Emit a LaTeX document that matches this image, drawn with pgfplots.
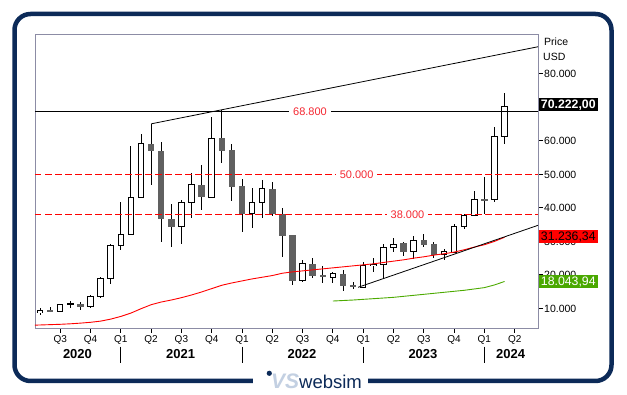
\documentclass[border=0pt]{standalone}
\usepackage{fontspec}
\setmainfont{Liberation Sans}
\usepackage{pgfplots}
\usepackage{pgfplotstable}
\pgfplotsset{compat=1.18}
\definecolor{navy}{RGB}{12,42,88}
\definecolor{framecol}{RGB}{140,140,165}
\definecolor{bodygray}{RGB}{96,96,96}
\definecolor{labred}{RGB}{245,40,50}
\definecolor{lvlred}{RGB}{255,0,0}
\definecolor{magreen}{RGB}{76,170,0}
\definecolor{boxgreen}{RGB}{74,168,0}
\definecolor{logolight}{RGB}{195,208,226}

% month index i: 0 = May 2020 ... 46 = Mar 2024 ; values in thousand USD
\pgfplotstableread{
i o h l c
0 8.65 10.0 8.1 9.35
2 9.1 11.4 8.9 11.1
3 11.1 12.1 10.1 11.4
5 10.5 14.1 10.1 13.6
6 13.6 19.5 13.0 19.0
7 19.0 29.2 17.4 28.9
8 28.9 41.9 27.3 32.2
9 32.2 58.6 32.0 43.1
10 43.1 62.0 43.0 59.1
14 34.3 42.5 29.1 41.6
15 41.6 50.5 37.0 46.9
17 43.2 67.2 43.0 60.8
21 38.2 45.8 34.0 41.6
22 41.6 48.2 37.0 45.7
26 18.3 24.4 18.0 23.4
29 19.35 20.9 17.7 20.3
32 16.3 23.7 16.2 22.8
33 22.9 24.9 21.0 23.25
34 23.0 29.2 19.0 28.2
35 28.2 31.1 26.7 29.2
37 26.9 31.6 24.6 30.3
40 26.1 27.6 24.4 27.0
41 26.8 35.2 26.5 34.5
42 34.5 38.3 33.8 37.8
43 37.8 45.0 37.5 42.4
45 42.5 64.2 41.7 61.4
46 61.4 74.3 59.2 70.222
}\up

\pgfplotstableread{
i o h l c
1 9.35 10.3 8.9 9.1
4 11.4 12.0 9.6 10.5
11 59.1 65.0 46.7 56.9
12 57.1 59.7 29.9 36.6
13 36.6 41.3 28.4 34.3
16 46.9 52.8 39.5 43.2
18 60.8 69.1 53.3 57.1
19 57.4 59.2 42.0 46.2
20 46.6 48.7 32.8 38.2
23 45.7 47.6 37.5 38.2
24 38.3 40.1 25.2 31.7
25 31.8 32.0 17.1 18.3
27 23.4 25.0 19.2 19.8
28 20.0 22.7 17.7 19.3
30 20.3 21.5 15.1 16.8
31 17.0 17.8 15.9 16.3
36 29.6 29.9 25.5 26.9
38 30.3 32.1 28.4 28.9
39 29.2 29.9 25.1 25.9
44 42.65 49.2 38.1 42.35
}\down

\pgfplotstableread{
i v
-0.5 5.0
0 5.05
1 5.15
2 5.25
3 5.4
4 5.6
5 5.85
6 6.2
7 6.8
8 7.6
9 8.6
10 9.9
11 11.1
12 11.9
13 12.5
14 13.2
15 14.0
16 14.9
17 15.9
18 16.9
19 17.6
20 18.2
21 18.8
22 19.3
23 19.8
24 20.5
25 20.9
26 21.2
27 21.5
28 21.8
29 22.1
30 22.4
31 22.7
32 23.0
33 23.3
34 23.7
35 24.1
36 24.5
37 25.0
38 25.4
39 25.9
40 26.3
41 26.8
42 27.5
43 28.3
44 29.0
45 30.0
46 31.236
}\redma

\pgfplotstableread{
i v
29 12.2
30 12.35
31 12.5
32 12.7
33 12.9
34 13.1
35 13.3
36 13.6
37 13.9
38 14.2
39 14.5
40 14.8
41 15.1
42 15.4
43 15.8
44 16.2
45 17.0
46 18.044
}\greenma

\pgfplotsset{
  candle/.style 2 args={forget plot, draw=none, mark=none,
    error bars/.cd, y dir=both, y explicit, error mark=none,
    error bar style={draw=#1, solid, line width=#2}},
  level/.style={forget plot, mark=none, draw=lvlred, solid, line width=1pt, dash pattern=on 6.5pt off 3.5pt},
}

\begin{document}
\begin{tikzpicture}[x=1pt,y=1pt]
\path[use as bounding box] (0,0) rectangle (627,395);
\fill[white] (0,0) rectangle (627,395);
\draw[navy, line width=4.5pt, rounded corners=16pt] (14.5,14) rectangle (611.5,381);
\fill[white] (253,8) rectangle (368,20);
\fill[navy] (269.3,21.7) circle (2.6);
\node[anchor=base west, inner sep=0pt, text=logolight, font=\fontsize{21}{21}\selectfont\bfseries\itshape] at (271,6) {VS};
\node[anchor=base west, inner sep=0pt, text=navy, font=\fontsize{18.5}{19}\selectfont] at (299,6.5) {websim};

\begin{axis}[
  at={(35pt,67pt)}, anchor=south west, scale only axis,
  width=503pt, height=294pt,
  xmin=-0.495, xmax=49.31, ymin=4.15, ymax=91.91,
  clip mode=individual,
  axis line style={draw=framecol, line width=0.8pt},
  xtick={2,5,...,47},
  xticklabels={Q3,Q4,Q1,Q2,Q3,Q4,Q1,Q2,Q3,Q4,Q1,Q2,Q3,Q4,Q1,Q2},
  ytick={10,20,...,80},
  yticklabels={10.000,20.000,30.000,40.000,50.000,60.000,{},80.000},
  xtick pos=bottom, ytick pos=right, yticklabel pos=right,
  tick align=outside, major tick length=5pt,
  tick style={black, line width=0.8pt},
  /pgf/number format/assume math mode=true,
  xticklabel style={font=\fontsize{10}{12}\selectfont, inner sep=0pt, yshift=-2pt},
  yticklabel style={font=\fontsize{10.5}{12}\selectfont, anchor=west, inner sep=0pt, xshift=1pt},
]
% wicks
\addplot[candle={black}{0.9pt}]
  table[x=i, y expr={(\thisrow{h}+\thisrow{l})/2}, y error expr={(\thisrow{h}-\thisrow{l})/2}] {\up};
\addplot[candle={black}{0.9pt}]
  table[x=i, y expr={(\thisrow{h}+\thisrow{l})/2}, y error expr={(\thisrow{h}-\thisrow{l})/2}] {\down};
% gray bodies
\addplot[candle={bodygray}{6.5pt}]
  table[x=i, y expr={(\thisrow{o}+\thisrow{c})/2}, y error expr={max(abs(\thisrow{o}-\thisrow{c})/2,0.15)}] {\down};
% white bodies: outline then fill
\addplot[candle={black}{6.5pt}]
  table[x=i, y expr={(\thisrow{o}+\thisrow{c})/2}, y error expr={abs(\thisrow{o}-\thisrow{c})/2+0.15}] {\up};
\addplot[candle={white}{4.5pt}]
  table[x=i, y expr={(\thisrow{o}+\thisrow{c})/2}, y error expr={max(abs(\thisrow{o}-\thisrow{c})/2-0.15,0)}] {\up};

% moving averages
\addplot[draw=lvlred, line width=0.9pt, mark=none] table[x=i, y=v] {\redma};
\addplot[draw=magreen, line width=0.9pt, mark=none] table[x=i, y=v] {\greenma};
% trend lines
\addplot[draw=black, line width=0.8pt, mark=none] coordinates {(11.02,65.1) (49.31,88.1)};
\addplot[draw=black, line width=0.8pt, mark=none] coordinates {(31.5,16.3) (49.31,34.8)};
\addplot[draw=black, line width=0.9pt, mark=none] coordinates {(-0.495,68.8) (49.31,68.8)};
% dashed levels
\addplot[level] coordinates {(-0.495,38) (49.31,38)};
\addplot[level] coordinates {(-0.495,50) (49.31,50)};

\node[fill=white, text=labred, font=\fontsize{11}{12}\selectfont, inner xsep=4pt, inner ysep=1pt] at (axis cs:26.73,68.8) {68.800};
\node[fill=white, text=labred, font=\fontsize{11}{12}\selectfont, inner xsep=4pt, inner ysep=1pt] at (axis cs:31.35,50) {50.000};
\node[fill=white, text=labred, font=\fontsize{11}{12}\selectfont, inner xsep=4pt, inner ysep=1pt] at (axis cs:36.39,38) {38.000};

% value boxes
\node[fill=black, text=white, anchor=west, minimum width=59pt, minimum height=12.5pt, inner xsep=0.8pt, inner ysep=0pt, xshift=0.6pt, font=\fontsize{12.3}{13}\selectfont\bfseries] at (axis cs:49.31,70.8) {70.222,00};
\node[fill=red, text=black, anchor=west, minimum width=59pt, minimum height=13pt, inner xsep=0.8pt, inner ysep=0pt, xshift=0.6pt, font=\fontsize{12.3}{13}\selectfont] at (axis cs:49.31,31.4) {31.236,34};
\node[fill=boxgreen, text=white, anchor=west, minimum width=59pt, minimum height=13pt, inner xsep=0.8pt, inner ysep=0pt, xshift=0.6pt, font=\fontsize{12.3}{13}\selectfont] at (axis cs:49.31,17.97) {18.043,94};

% year labels and separators
\node[font=\fontsize{13}{14}\selectfont\bfseries, inner sep=0pt] at (axis cs:3.71,-3.70) {2020};
\node[font=\fontsize{13}{14}\selectfont\bfseries, inner sep=0pt] at (axis cs:13.93,-3.70) {2021};
\node[font=\fontsize{13}{14}\selectfont\bfseries, inner sep=0pt] at (axis cs:25.94,-3.70) {2022};
\node[font=\fontsize{13}{14}\selectfont\bfseries, inner sep=0pt] at (axis cs:37.92,-3.70) {2023};
\node[font=\fontsize{13}{14}\selectfont\bfseries, inner sep=0pt] at (axis cs:46.6,-3.70) {2024};
\draw[black, line width=0.9pt] (axis cs:8,-1.43) -- (axis cs:8,-6.21);
\draw[black, line width=0.9pt] (axis cs:20,-1.43) -- (axis cs:20,-6.21);
\draw[black, line width=0.9pt] (axis cs:32,-1.43) -- (axis cs:32,-6.21);
\draw[black, line width=0.9pt] (axis cs:44,-1.43) -- (axis cs:44,-6.21);
\end{axis}
\node[anchor=west, inner sep=0pt, font=\fontsize{10.5}{12}\selectfont] at (544,353.3) {Price};
\node[anchor=west, inner sep=0pt, font=\fontsize{10.5}{12}\selectfont] at (543,338.3) {USD};
\end{tikzpicture}
\end{document}
